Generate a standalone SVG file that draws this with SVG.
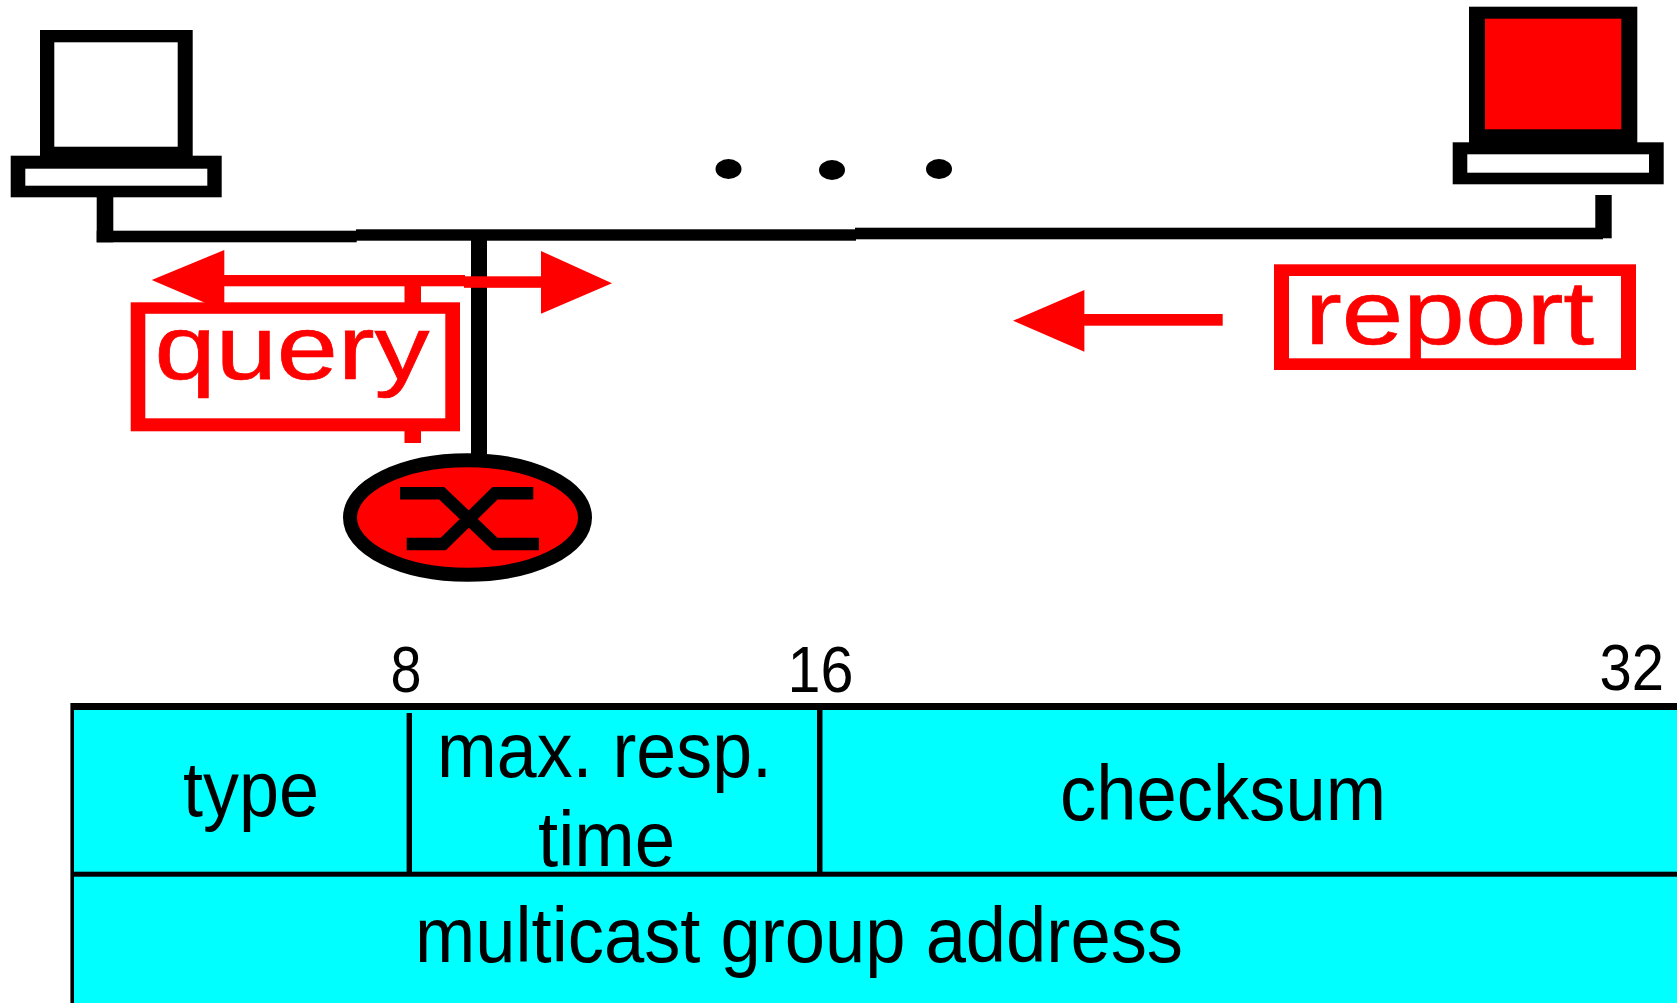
<svg xmlns="http://www.w3.org/2000/svg" width="1677" height="1003" viewBox="0 0 1677 1003">
<style>
.k{fill:#000}.r{fill:#f00}.w{fill:#fff}.c{fill:#0ff}
.lbl{font-family:"Liberation Sans",Arial,sans-serif;fill:#000;font-size:77px}
.num{font-family:"Liberation Sans",Arial,sans-serif;fill:#000;font-size:64px}
.red{font-family:"Liberation Sans",Arial,sans-serif;fill:#f00;stroke:#f00;stroke-width:0.7px;font-size:91px}
</style>
<rect width="1677" height="1003" fill="#fff"/>
<g id="connectors">
<rect class="k" x="96.700" y="197" width="16.600" height="45.300"/>
<rect class="k" x="96.700" y="230.700" width="260" height="11.600"/>
<rect class="k" x="356" y="229.300" width="500" height="11.400"/>
<rect class="k" x="855" y="227.700" width="748" height="11.600"/>
<rect class="k" x="1595.300" y="195" width="16.400" height="43.300"/>
<rect class="k" x="471" y="238" width="16" height="218"/>
</g>
<g id="query-arrows">
<polygon class="r" points="151.700,280 224.300,250 224.300,311"/>
<rect class="r" x="223" y="275" width="242" height="11.300"/>
<rect class="r" x="464" y="276.300" width="78" height="11.500"/>
<polygon class="r" points="541,251 612,283.200 541,313.800"/>
<rect class="r" x="404.500" y="286" width="16.500" height="20"/>
</g>
<g id="host-left">
<rect class="k" x="40" y="30" width="152.700" height="130"/>
<rect class="w" x="54.300" y="42.300" width="123.400" height="104.400"/>
<rect class="k" x="10.700" y="155.700" width="211" height="41.600"/>
<rect class="w" x="25.300" y="168.700" width="182" height="17"/>
</g>
<g id="dots">
<ellipse class="k" cx="728.500" cy="169" rx="13" ry="10"/>
<ellipse class="k" cx="832" cy="170" rx="13" ry="10"/>
<ellipse class="k" cx="939" cy="169" rx="13" ry="10"/>
</g>
<g id="host-right">
<rect class="k" x="1469" y="6.700" width="168.300" height="138"/>
<rect class="r" x="1485" y="18.700" width="136.300" height="110.600"/>
<rect class="k" x="1452.700" y="142.300" width="211" height="42"/>
<rect class="w" x="1467.300" y="154.300" width="181.700" height="18.400"/>
</g>
<g id="query">
<rect class="r" x="130.700" y="302.300" width="329.300" height="129"/>
<rect class="w" x="145.300" y="313.800" width="300" height="104.500"/>
<rect class="r" x="404.500" y="431" width="16.500" height="12"/>
<text class="red" x="154.500" y="379" textLength="275" lengthAdjust="spacingAndGlyphs">query</text>
</g>
<g id="report">
<polygon class="r" points="1013,320.700 1084.400,290 1084.400,351.700"/>
<rect class="r" x="1084" y="314" width="138.700" height="11.700"/>
<rect class="r" x="1274" y="264.300" width="362" height="105.700"/>
<rect class="w" x="1289" y="276" width="332" height="82.300"/>
<text class="red" x="1305" y="344" textLength="289" lengthAdjust="spacingAndGlyphs">report</text>
</g>
<g id="router">
<ellipse cx="467.500" cy="517.500" rx="117.500" ry="57.300" fill="#f00" stroke="#000" stroke-width="14"/>
<path d="M400 493.300H441.700L495 544H539M533.300 493.300H495L443.300 544H406.700" fill="none" stroke="#000" stroke-width="12.500"/>
</g>
<g id="packet">
<rect class="k" x="70.400" y="703" width="1606.600" height="300"/>
<rect class="c" x="74" y="710" width="1603" height="293"/>
<rect class="k" x="74" y="871.700" width="1603" height="5"/>
<rect class="k" x="406.600" y="713" width="5.400" height="160"/>
<rect class="k" x="817" y="710" width="5.500" height="163"/>
<text class="num" x="390.500" y="692" textLength="31" lengthAdjust="spacingAndGlyphs">8</text>
<text class="num" x="787.500" y="692" textLength="66" lengthAdjust="spacingAndGlyphs">16</text>
<text class="num" x="1599.500" y="690" textLength="64.500" lengthAdjust="spacingAndGlyphs">32</text>
<text class="lbl" x="183" y="816" textLength="136" lengthAdjust="spacingAndGlyphs">type</text>
<text class="lbl" x="437" y="777" textLength="335" lengthAdjust="spacingAndGlyphs">max. resp.</text>
<text class="lbl" x="538" y="866" textLength="137" lengthAdjust="spacingAndGlyphs">time</text>
<text class="lbl" x="1060" y="820" textLength="326" lengthAdjust="spacingAndGlyphs">checksum</text>
<text class="lbl" x="415" y="962" textLength="768" lengthAdjust="spacingAndGlyphs">multicast group address</text>
</g>
</svg>
